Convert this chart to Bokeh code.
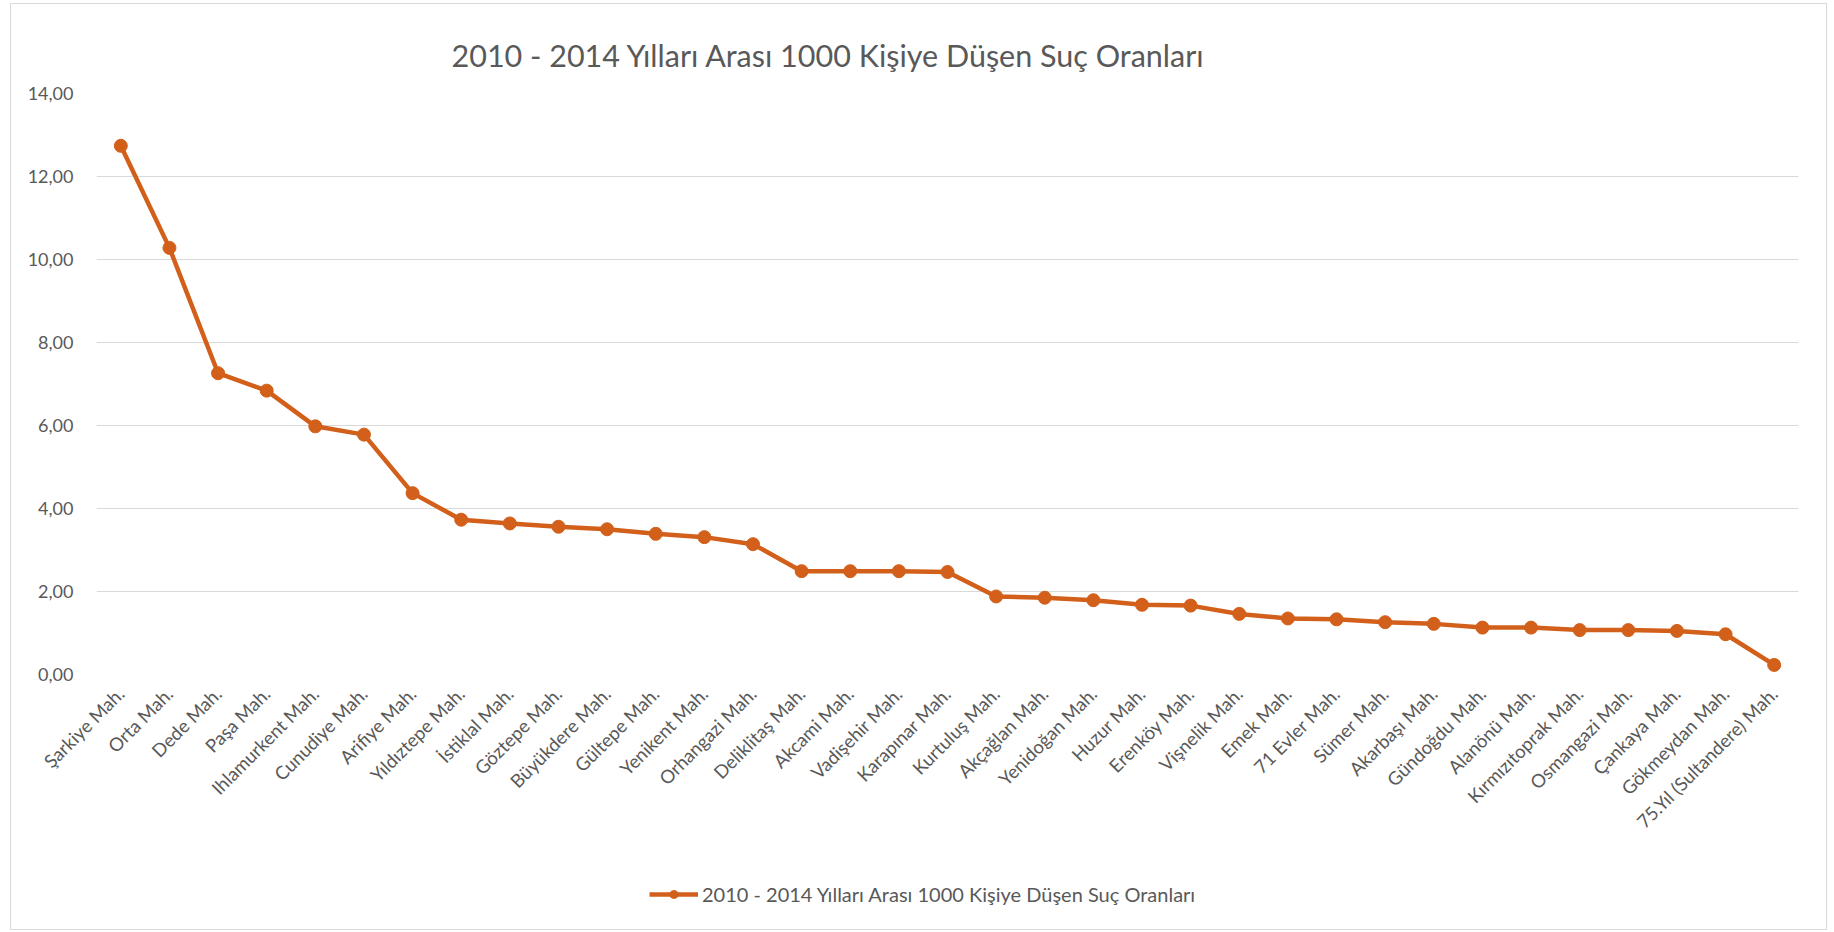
import math
from bokeh.plotting import figure
from bokeh.layouts import column
from bokeh.models import (FactorRange, Range1d, FixedTicker, Legend, LegendItem,
                          CustomJSTickFormatter)
from bokeh.embed import file_html
from bokeh.resources import INLINE

TITLE = "2010 - 2014 Yılları Arası 1000 Kişiye Düşen Suç Oranları"

neighbourhoods = [
    "Şarkiye Mah.", "Orta Mah.", "Dede Mah.", "Paşa Mah.", "Ihlamurkent Mah.",
    "Cunudiye Mah.", "Arifiye Mah.", "Yıldıztepe Mah.", "İstiklal Mah.", "Göztepe Mah.",
    "Büyükdere Mah.", "Gültepe Mah.", "Yenikent Mah.", "Orhangazi Mah.", "Deliklitaş Mah.",
    "Akcami Mah.", "Vadişehir Mah.", "Karapınar Mah.", "Kurtuluş Mah.", "Akçağlan Mah.",
    "Yenidoğan Mah.", "Huzur Mah.", "Erenköy Mah.", "Vişnelik Mah.", "Emek Mah.",
    "71 Evler Mah.", "Sümer Mah.", "Akarbaşı Mah.", "Gündoğdu Mah.", "Alanönü Mah.",
    "Kırmızıtoprak Mah.", "Osmangazi Mah.", "Çankaya Mah.", "Gökmeydan Mah.",
    "75.Yıl (Sultandere) Mah.",
]

crime_rate = [
    12.74, 10.28, 7.26, 6.84, 5.98,
    5.78, 4.37, 3.73, 3.64, 3.56,
    3.50, 3.39, 3.31, 3.14, 2.49,
    2.49, 2.49, 2.47, 1.88, 1.85,
    1.79, 1.68, 1.66, 1.46, 1.35,
    1.33, 1.26, 1.22, 1.13, 1.13,
    1.07, 1.07, 1.05, 0.97, 0.23,
]

y_ticks = [0, 2, 4, 6, 8, 10, 12, 14]

LINE_COLOR = "#D2601A"
TEXT_COLOR = "#595959"
GRID_COLOR = "#D9D9D9"
FONT = "Lato"

# ---------------- main chart ----------------
p = figure(
    frame_width=1702, frame_height=581,
    x_range=FactorRange(factors=neighbourhoods),
    y_range=Range1d(0, 14),
    output_backend="svg", toolbar_location=None,
    min_border_left=85, min_border_right=28, min_border_top=89, min_border_bottom=200,
)
p.outline_line_color = None
p.background_fill_color = "white"
p.border_fill_color = "white"

line_r = p.line(neighbourhoods, crime_rate, line_color=LINE_COLOR, line_width=4.5)
dot_r = p.scatter(neighbourhoods, crime_rate, size=13, fill_color=LINE_COLOR,
                  line_color=LINE_COLOR)

# title
p.title.text = TITLE
p.title.align = "left"
p.title.offset = 355
p.title.standoff = 42
p.title.text_font = FONT
p.title.text_font_size = "30.5px"
p.title.text_font_style = "normal"
p.title.text_color = TEXT_COLOR

# y axis
p.yaxis.ticker = FixedTicker(ticks=y_ticks)
p.yaxis.formatter = CustomJSTickFormatter(code="return tick.toFixed(2).replace('.', ',');")
p.yaxis.axis_line_color = None
p.yaxis.major_tick_line_color = None
p.yaxis.minor_tick_line_color = None
p.yaxis.major_label_text_font = FONT
p.yaxis.major_label_text_font_size = "18px"
p.yaxis.major_label_text_color = TEXT_COLOR
p.yaxis.major_label_standoff = 17

# x axis
p.xaxis.axis_line_color = None
p.xaxis.major_tick_line_color = None
p.xaxis.minor_tick_line_color = None
p.xaxis.major_label_orientation = math.pi / 4
p.xaxis.major_label_text_font = FONT
p.xaxis.major_label_text_font_size = "18.5px"
p.xaxis.major_label_text_color = TEXT_COLOR
p.xaxis.major_label_standoff = 10

p.xgrid.grid_line_color = None
p.ygrid.grid_line_color = GRID_COLOR
p.ygrid.grid_line_width = 1

# ---------------- legend strip ----------------
# The legend proxies reuse the series, but this strip's ranges keep them out of view,
# so only their legend glyph is shown.
q = figure(
    width=1815, height=55, x_range=Range1d(0, 1), y_range=Range1d(0, 1),
    output_backend="svg", toolbar_location=None,
    min_border_left=0, min_border_right=0, min_border_top=0, min_border_bottom=0,
    x_axis_type=None, y_axis_type=None,
)
q.outline_line_color = None
q.xgrid.visible = False
q.ygrid.visible = False
q.border_fill_color = "white"
idx = list(range(len(crime_rate)))
leg_line = q.line(idx, crime_rate, line_color=LINE_COLOR, line_width=4.5)
leg_dot = q.scatter(idx, crime_rate, size=13, fill_color=LINE_COLOR,
                    line_color=LINE_COLOR)
legend = Legend(items=[LegendItem(label=TITLE, renderers=[leg_line, leg_dot])],
                location=(553, 23), orientation="horizontal",
                glyph_width=49, glyph_height=20, label_standoff=4,
                label_text_font=FONT, label_text_font_size="20px",
                label_text_color=TEXT_COLOR, border_line_color=None,
                background_fill_alpha=0, padding=0, margin=0)
q.add_layout(legend, "center")

layout = column(p, q, spacing=0,
                styles={"border": "1px solid #D9D9D9", "margin-left": "10px",
                        "margin-top": "3px"})

open("out.html", "w").write(file_html(layout, INLINE))
